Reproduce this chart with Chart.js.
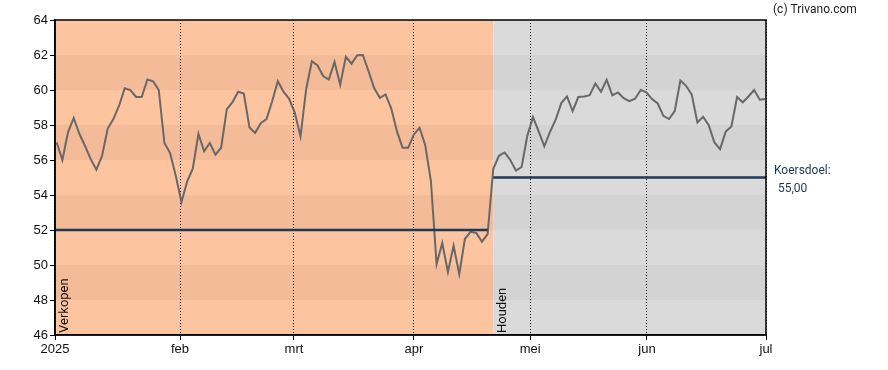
<!DOCTYPE html>
<html>
<head>
<meta charset="utf-8">
<script src="https://cdn.jsdelivr.net/npm/chart.js@4/dist/chart.umd.min.js"></script>
<style>
  html, body { margin: 0; padding: 0; background: #fff; }
  #wrap { width: 888px; height: 370px; }
</style>
</head>
<body>
<div id="wrap"><canvas id="chart" width="888" height="370"></canvas></div>
<script>
// === Data (koers per handelsdag, jan - jun 2025) ===
const prices = [
  57.0, 56.0, 57.6, 58.4, 57.5, 56.8, 56.05, 55.45, 56.24, 57.8,
  58.34, 59.1, 60.1, 60.0, 59.6, 59.6, 60.6, 60.5, 60.0, 56.97,
  56.4, 55.1, 53.6, 54.76, 55.5, 57.5, 56.5, 56.97, 56.3, 56.7,
  58.9, 59.3, 59.9, 59.8, 57.86, 57.55, 58.1, 58.34, 59.36, 60.5,
  59.9, 59.5, 58.7, 57.35, 60.05, 61.64, 61.4, 60.8, 60.6, 61.6,
  60.3, 61.9, 61.5, 61.99, 62.0, 61.07, 60.1, 59.55, 59.75, 58.95,
  57.65, 56.7, 56.7, 57.46, 57.84, 56.85, 54.8, 50.05, 51.26, 49.6,
  51.1, 49.48, 51.5, 51.9, 51.83, 51.33, 51.76, 55.5, 56.24, 56.43,
  56.0, 55.39, 55.6, 57.38, 58.45, 57.63, 56.78, 57.6, 58.3, 59.25,
  59.63, 58.8, 59.6, 59.63, 59.7, 60.37, 59.9, 60.58, 59.7, 59.86,
  59.53, 59.36, 59.5, 60.0, 59.86, 59.48, 59.23, 58.52, 58.34, 58.8,
  60.54, 60.24, 59.74, 58.15, 58.47, 57.99, 57.0, 56.62, 57.63, 57.92,
  59.6, 59.3, 59.63, 60.0, 59.44, 59.48
];

// maand-ticks (positie in handelsdagen) en labels
const monthPos    = [-0.3, 21.75, 41.85, 63, 83.5, 104.1, 125.1];
const monthLabels = ['2025', 'feb', 'mrt', 'apr', 'mei', 'jun', 'jul'];

// adviezen: zone start/eind, label, koersdoel
const adviceLabels = ['Verkopen', 'Houden'];
const adviceStart  = [-0.3, 77];
const adviceEnd    = [77, 125.1];
const adviceTarget = [52, 55];
const targetEnd    = [76, 125.1];

const yMin = 46, yMax = 64;

// === Achtergrond: zones met horizontale banden ===
const zonesPlugin = {
  id: 'zones',
  beforeDraw(chart) {
    const { ctx, scales: { x, y } } = chart;
    const pal = [
      ['#fdc4a0', '#f4bb98'],   // verkopen
      ['#dadada', '#d3d3d3']    // houden
    ];
    ctx.save();
    adviceLabels.forEach((lab, i) => {
      const x0 = x.getPixelForValue(adviceStart[i]);
      const x1 = x.getPixelForValue(adviceEnd[i]);
      for (let v = yMin; v < yMax; v += 2) {
        const odd = ((v - yMin) / 2) % 2 === 1;
        ctx.fillStyle = pal[i][odd ? 1 : 0];
        const yt = y.getPixelForValue(v + 2), yb = y.getPixelForValue(v);
        ctx.fillRect(x0, yt, x1 - x0, yb - yt);
      }
    });
    ctx.restore();
  },
  afterDatasetsDraw(chart) {
    const { ctx, chartArea: a, scales: { x, y } } = chart;
    ctx.save();
    // rand rondom plot
    ctx.strokeStyle = '#000';
    ctx.lineWidth = 1.5;
    ctx.strokeRect(a.left, a.top, a.right - a.left, a.bottom - a.top);

    // advies labels (verticaal)
    ctx.fillStyle = '#111';
    ctx.font = '13px Roboto';
    ctx.textAlign = 'left';
    ctx.textBaseline = 'alphabetic';
    adviceLabels.forEach((lab, i) => {
      const px = x.getPixelForValue(adviceStart[i]);
      ctx.save();
      ctx.translate(Math.max(px, a.left) + 13, a.bottom - 2);
      ctx.rotate(-Math.PI / 2);
      ctx.fillText(lab, 0, 0);
      ctx.restore();
    });

    // copyright
    ctx.font = '12px Roboto';
    ctx.fillStyle = '#222';
    ctx.fillText('(c) Trivano.com', 773, 13);

    // koersdoel rechts
    const last = adviceTarget[adviceTarget.length - 1];
    const ty = y.getPixelForValue(last);
    ctx.fillStyle = '#1d3650';
    ctx.fillText('Koersdoel:', a.right + 8, ty - 4);
    ctx.fillText(last.toFixed(2).replace('.', ','), a.right + 12, ty + 14);
    ctx.restore();
  }
};

const priceData = prices.map((v, i) => ({ x: i, y: v }));
const targetSets = adviceTarget.map((t, i) => ({
  data: [{ x: adviceStart[i], y: t }, { x: targetEnd[i], y: t }],
  borderColor: '#1b3a58',
  borderWidth: 2.5,
  pointRadius: 0,
  fill: false
}));

new Chart(document.getElementById('chart').getContext('2d'), {
  type: 'line',
  data: {
    datasets: [
      ...targetSets,
      {
        data: priceData,
        borderColor: '#686868',
        borderWidth: 2,
        pointRadius: 0,
        tension: 0,
        fill: false
      }
    ]
  },
  plugins: [zonesPlugin],
  options: {
    responsive: false,
    animation: false,
    devicePixelRatio: 1,
    layout: { padding: { top: 20, right: 122, left: 0, bottom: 0 } },
    plugins: { legend: { display: false }, tooltip: { enabled: false } },
    scales: {
      x: {
        type: 'linear',
        min: monthPos[0],
        max: monthPos[monthPos.length - 1],
        afterBuildTicks: (scale) => { scale.ticks = monthPos.map(v => ({ value: v })); },
        afterFit: (scale) => { scale.height = 35; },
        ticks: {
          autoSkip: false,
          maxRotation: 0,
          padding: 2,
          color: '#111',
          font: { family: 'Liberation Sans', size: 13 },
          callback: (val, idx) => monthLabels[idx]
        },
        grid: {
          color: '#000',
          lineWidth: 1,
          tickLength: 5,
          tickColor: '#000'
        },
        border: { display: true, color: '#000', width: 1.5, dash: [1, 2] }
      },
      y: {
        min: yMin,
        max: yMax,
        afterFit: (scale) => { scale.width = 55; },
        ticks: {
          stepSize: 2,
          padding: 2,
          color: '#111',
          font: { family: 'Liberation Sans', size: 13 }
        },
        grid: {
          drawOnChartArea: false,
          tickLength: 5,
          color: '#000'
        },
        border: { display: true, color: '#000', width: 1.5 }
      }
    }
  }
});
</script>
</body>
</html>
